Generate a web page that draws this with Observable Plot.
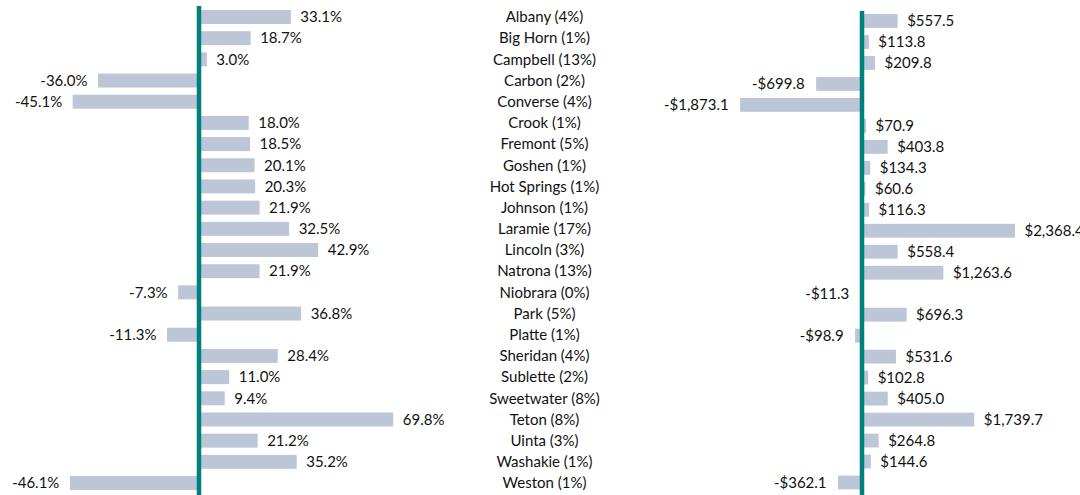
<!DOCTYPE html>
<html>
<head>
<meta charset="utf-8">
<script src="https://cdn.jsdelivr.net/npm/d3@7"></script>
<script src="https://cdn.jsdelivr.net/npm/@observablehq/plot@0.6"></script>
<style>
  html, body { margin: 0; padding: 0; background: #fff; overflow: hidden; }
  #wrap { position: relative; width: 1080px; height: 495px; font-family: Lato, "Open Sans", sans-serif; }
  .panel { position: absolute; top: 0; }
  .panel svg { overflow: visible; }
</style>
</head>
<body>
<div id="wrap">
  <div id="left" class="panel" style="left:0px"></div>
  <div id="mid" class="panel" style="left:460px"></div>
  <div id="right" class="panel" style="left:630px"></div>
</div>
<script>
const counties = ["Albany (4%)", "Big Horn (1%)", "Campbell (13%)", "Carbon (2%)", "Converse (4%)", "Crook (1%)", "Fremont (5%)", "Goshen (1%)", "Hot Springs (1%)", "Johnson (1%)", "Laramie (17%)", "Lincoln (3%)", "Natrona (13%)", "Niobrara (0%)", "Park (5%)", "Platte (1%)", "Sheridan (4%)", "Sublette (2%)", "Sweetwater (8%)", "Teton (8%)", "Uinta (3%)", "Washakie (1%)", "Weston (1%)"];
const pctChange = [33.1, 18.7, 3.0, -36.0, -45.1, 18.0, 18.5, 20.1, 20.3, 21.9, 32.5, 42.9, 21.9, -7.3, 36.8, -11.3, 28.4, 11.0, 9.4, 69.8, 21.2, 35.2, -46.1];
const dollarChange = [557.5, 113.8, 209.8, -699.8, -1873.1, 70.9, 403.8, 134.3, 60.6, 116.3, 2368.4, 558.4, 1263.6, -11.3, 696.3, -98.9, 531.6, 102.8, 405.0, 1739.7, 264.8, 144.6, -362.1];

const rows = counties.map((c, i) => ({county: c, pct: pctChange[i], usd: dollarChange[i]}));

const barColor = "#bdc6d7";
const teal = "#00807c";
const txt = "#111111";
const font = "Lato, 'Open Sans', sans-serif";
const fs = 15;
const fmtPct = v => (v < 0 ? "-" : "") + d3.format(".1f")(Math.abs(v)) + "%";
const fmtUsd = v => (v < 0 ? "-" : "") + "$" + d3.format(",.1f")(Math.abs(v));

const yPad = 0.34;

// Left panel: percent change
const left = Plot.plot({
  width: 460, height: 495,
  marginLeft: 0, marginRight: 0, marginTop: 6, marginBottom: 0,
  style: {fontFamily: font, fontSize: fs + "px", background: "transparent"},
  x: {domain: [-71.15, 93.73], axis: null},
  y: {domain: counties, range: [6.4, 493.6], paddingInner: yPad, paddingOuter: yPad / 2, round: false, axis: null},
  marks: [
    Plot.barX(rows, {x: "pct", y: "county", fill: barColor}),
    Plot.text(rows.filter(d => d.pct >= 0), {x: "pct", y: "county", text: d => fmtPct(d.pct), textAnchor: "start", dx: 9, fill: txt, fontSize: fs}),
    Plot.text(rows.filter(d => d.pct < 0), {x: "pct", y: "county", text: d => fmtPct(d.pct), textAnchor: "end", dx: -11, fill: txt, fontSize: fs}),
    Plot.ruleX([0], {stroke: teal, strokeWidth: 4.5})
  ]
});
document.getElementById("left").appendChild(left);

// Middle panel: county labels
const mid = Plot.plot({
  width: 168, height: 495,
  marginLeft: 0, marginRight: 0, marginTop: 6, marginBottom: 0,
  style: {fontFamily: font, fontSize: fs + "px", background: "transparent"},
  y: {domain: counties, range: [6.4, 493.6], paddingInner: yPad, paddingOuter: yPad / 2, round: false, axis: null},
  marks: [
    Plot.text(rows, {y: "county", text: "county", fill: txt, fontSize: fs, textAnchor: "middle"})
  ]
});
document.getElementById("mid").appendChild(mid);

// Right panel: dollar change
const right = Plot.plot({
  width: 450, height: 495,
  marginLeft: 0, marginRight: 0, marginTop: 11, marginBottom: 0,
  style: {fontFamily: font, fontSize: fs + "px", background: "transparent"},
  x: {domain: [-3572.5, 3371.9], axis: null},
  y: {domain: counties, range: [10.5, 493], paddingInner: yPad, paddingOuter: yPad / 2, round: false, axis: null},
  marks: [
    Plot.barX(rows, {x: "usd", y: "county", fill: barColor}),
    Plot.text(rows.filter(d => d.usd >= 0), {x: "usd", y: "county", text: d => fmtUsd(d.usd), textAnchor: "start", dx: 9, fill: txt, fontSize: fs}),
    Plot.text(rows.filter(d => d.usd < 0), {x: "usd", y: "county", text: d => fmtUsd(d.usd), textAnchor: "end", dx: -12, fill: txt, fontSize: fs}),
    Plot.ruleX([0], {stroke: teal, strokeWidth: 4.5})
  ]
});
document.getElementById("right").appendChild(right);
</script>
</body>
</html>
